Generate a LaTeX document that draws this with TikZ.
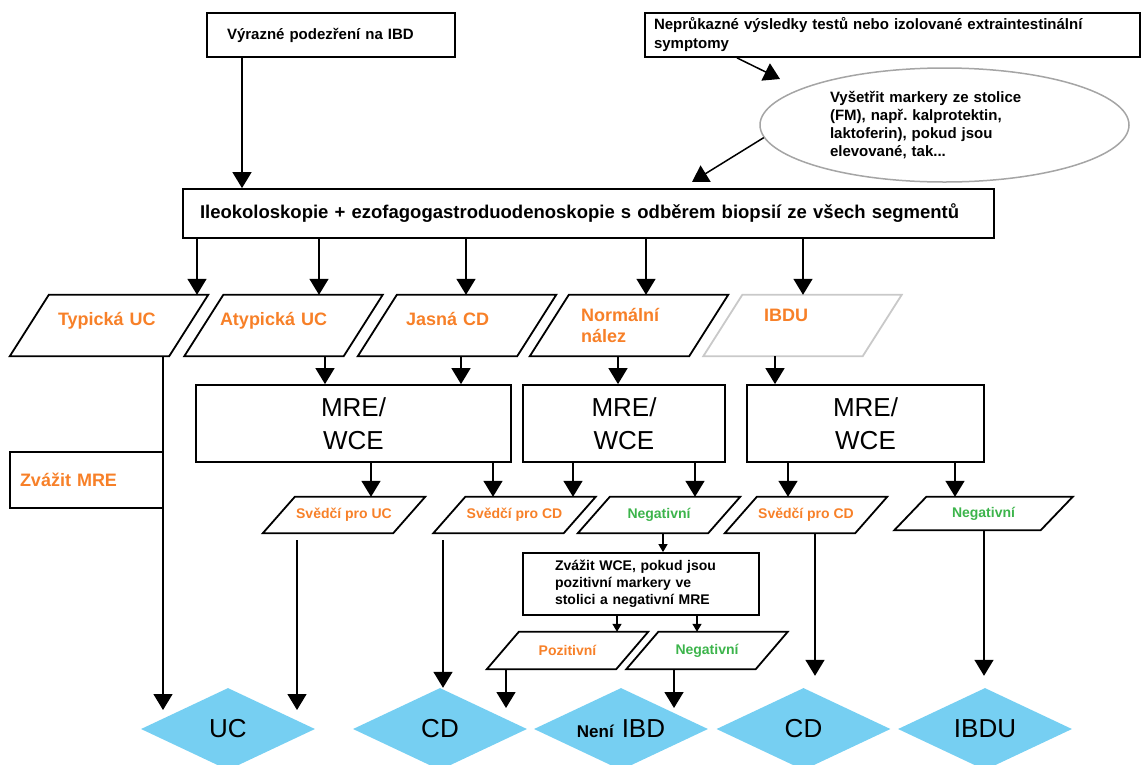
\documentclass[tikz,border=0pt]{standalone}
\usepackage{fontspec}
\setmainfont{Liberation Sans}
\usetikzlibrary{shapes.geometric,arrows.meta}

\definecolor{findorange}{RGB}{247,128,40}
\definecolor{findgreen}{RGB}{60,180,75}
\definecolor{resultblue}{RGB}{118,207,242}
\definecolor{softgrey}{RGB}{165,165,165}

\tikzset{
box/.style={draw,line width=1.8pt,align=left,font=\bfseries\fontsize{15}{19}\selectfont},
para/.style 2 args={inner sep=0pt,text=findorange,
  append after command={\pgfextra{\draw[line width=1.8pt,#2]
    ([xshift=-#1]\tikzlastnode.south west) -- ([xshift=-#1]\tikzlastnode.south east) --
    ([xshift=#1]\tikzlastnode.north east) -- ([xshift=#1]\tikzlastnode.north west) -- cycle;}}},
result/.style={diamond,aspect=2.1,fill=resultblue,minimum width=174pt,minimum height=82pt,inner sep=1pt,font=\fontsize{26}{30}\selectfont}
}

\begin{document}
\begin{tikzpicture}[x=1pt,y=-1pt,
bigpara/.style={para={19.5pt}{#1},minimum width=159pt,minimum height=61pt,align=left,text height=13pt,text depth=14pt,font=\bfseries\fontsize{18}{21}\selectfont},
bigpara/.default=black,
smallpara/.style={para={16pt}{black},minimum width=130pt,minimum height=36pt,font=\bfseries\fontsize{14}{17}\selectfont},
mrebox/.style={draw,line width=1.8pt,minimum height=77pt,align=center,font=\fontsize{26}{33}\selectfont}
]
\useasboundingbox (0,0) rectangle (1142,764);

\tikzstyle{flow} = [-{Triangle[length=16pt,width=19pt]},line width=1.5pt]
\tikzstyle{smallflow} = [-{Triangle[length=8pt,width=9pt]},line width=1.3pt]

  \node (suspect)  [box,minimum height=44pt,text width=208pt,inner xsep=20pt]   at (331,35)     {Výrazné podezření na IBD};
  \node (inconcl)  [box,minimum height=44pt,text width=477pt,inner xsep=9pt]    at (892.5,35)   {Neprůkazné výsledky testů nebo izolované extraintestinální\\symptomy};
  \node (markers)  [ellipse,draw=softgrey,line width=1.5pt,fill=white,minimum width=369pt,minimum height=114pt,inner sep=0pt,
                    text width=229pt,align=left,font=\bfseries\fontsize{15}{18}\selectfont]   at (944.5,125)
                   {Vyšetřit markery ze stolice\\(FM), např.\ kalprotektin,\\laktoferin), pokud jsou\\elevované, tak...};
  \node (endo)     [box,minimum height=49pt,text width=777pt,inner xsep=17pt,font=\bfseries\fontsize{18.5}{22}\selectfont]   at (588.5,213.5)
                   {Ileokoloskopie + ezofagogastroduodenoskopie s odběrem biopsií ze všech segmentů};

  \node (typical)  [bigpara,text width=102pt]   at (109,325.5)   {Typická UC};
  \node (atypical) [bigpara,text width=127pt]   at (283.5,325.5) {Atypická UC};
  \node (clearcd)  [bigpara,text width=102pt]   at (457,325.5)   {Jasná CD};
  \node (normal)   [bigpara,text width=96pt,text height=,text depth=] at (629,325.5) {Normální\\nález};
  \node (ibdu)     [bigpara=softgrey!60,text width=77pt,text depth=21pt] at (802.5,325.5) {IBDU};

  \node (mreA)     [mrebox,minimum width=315pt] at (353.5,423.5) {MRE/\\WCE};
  \node (mreB)     [mrebox,minimum width=202pt] at (624,423.5)   {MRE/\\WCE};
  \node (mreC)     [mrebox,minimum width=237pt] at (865.5,423.5) {MRE/\\WCE};

  \node (considerMRE) [box,minimum height=56pt,text width=133pt,inner xsep=10pt,text=findorange,font=\bfseries\fontsize{18}{21}\selectfont] at (86.5,480) {Zvážit MRE};

  \node (forUC)    [smallpara]                  at (344,515)     {Svědčí pro UC};
  \node (forCDa)   [smallpara]                  at (514.5,515)   {Svědčí pro CD};
  \node (negA)     [smallpara,text=findgreen]   at (659,515)     {Negativní};
  \node (forCDb)   [smallpara]                  at (806,515)     {Svědčí pro CD};
  \node (negB)     [smallpara,text=findgreen,minimum width=146pt,minimum height=33pt] at (983.5,513.5) {Negativní};

  \node (wce)      [box,minimum height=62pt,text width=172pt,inner xsep=32pt,font=\bfseries\fontsize{14}{17}\selectfont] at (641,584)
                   {Zvážit WCE, pokud jsou\\pozitivní markery ve\\stolici a negativní MRE};

  \node (posit)    [smallpara,minimum width=129pt,minimum height=37pt]                  at (567.5,650.5) {Pozitivní};
  \node (negC)     [smallpara,minimum width=129pt,minimum height=37pt,text=findgreen]   at (707,650.5)   {Negativní};

  \node (ucRes)    [result]                     at (228,729)     {UC};
  \node (cdResA)   [result]                     at (440,729)     {CD};
  \node (noIbd)    [result]                     at (621,729)     {{\bfseries\fontsize{17}{20}\selectfont Není}\hspace{8pt}IBD};
  \node (cdResB)   [result]                     at (803.5,729)   {CD};
  \node (ibduRes)  [result]                     at (985,729)     {IBDU};

  \coordinate (markersTip) at (780,79);
  \coordinate (endoTip)    at (692,182);
  \coordinate (ucTipA)     at (163,710);
  \coordinate (ucTipB)     at (297,710);
  \coordinate (positTip)   at (506,708);
  \coordinate (negTip)     at (674,708);

\path[flow] (suspect.south -| 242,0) edge (endo.north -| 242,0);
\path[flow] (inconcl.south -| 737,0) edge (markersTip);
\path[flow] (markers.184) edge (endoTip);

\path[flow] (endo.south -| 197,0) edge (typical.north -| 197,0);
\path[flow] (endo.south -| 319,0) edge (atypical.north -| 319,0);
\path[flow] (endo.south -| 466,0) edge (clearcd.north -| 466,0);
\path[flow] (endo.south -| 646,0) edge (normal.north -| 646,0);
\path[flow] (endo.south -| 803,0) edge (ibdu.north -| 803,0);

\path[flow] (atypical.south -| 325,0) edge (mreA.north -| 325,0);
\path[flow] (clearcd.south -| 461,0) edge (mreA.north -| 461,0);
\path[flow] (normal.south -| 618,0) edge (mreB.north -| 618,0);
\path[flow] (ibdu.south -| 775,0) edge (mreC.north -| 775,0);
\path[flow] (typical.south -| 163,0) edge (ucTipA);

\path[flow] (mreA.south -| 371,0) edge (forUC.north -| 371,0);
\path[flow] (mreA.south -| 493,0) edge (forCDa.north -| 493,0);
\path[flow] (mreB.south -| 573,0) edge (forCDa.north -| 573,0);
\path[flow] (mreB.south -| 695,0) edge (negA.north -| 695,0);
\path[flow] (mreC.south -| 788,0) edge (forCDb.north -| 788,0);
\path[flow] (mreC.south -| 955,0) edge (negB.north -| 955,0);

\path[flow] (forUC.south -| 297,0) edge[shorten <=7pt] (ucTipB);
\path[flow] (forCDa.south -| 443,0) edge[shorten <=7pt] (cdResA.north -| 443,0);
\path[flow] (forCDb.south -| 815,0) edge[shorten >=12pt] (cdResB.north -| 815,0);
\path[flow] (negB.south -| 984,0) edge[shorten >=12pt] (ibduRes.north -| 984,0);

\path[smallflow] (negA.south -| 663,0) edge (wce.north -| 663,0);
\path[smallflow] (wce.south -| 617,0) edge (posit.north -| 617,0);
\path[smallflow] (wce.south -| 697,0) edge (negC.north -| 697,0);
\path[flow] (posit.south -| 506,0) edge (positTip);
\path[flow] (negC.south -| 674,0) edge (negTip);

\end{tikzpicture}
\end{document}
